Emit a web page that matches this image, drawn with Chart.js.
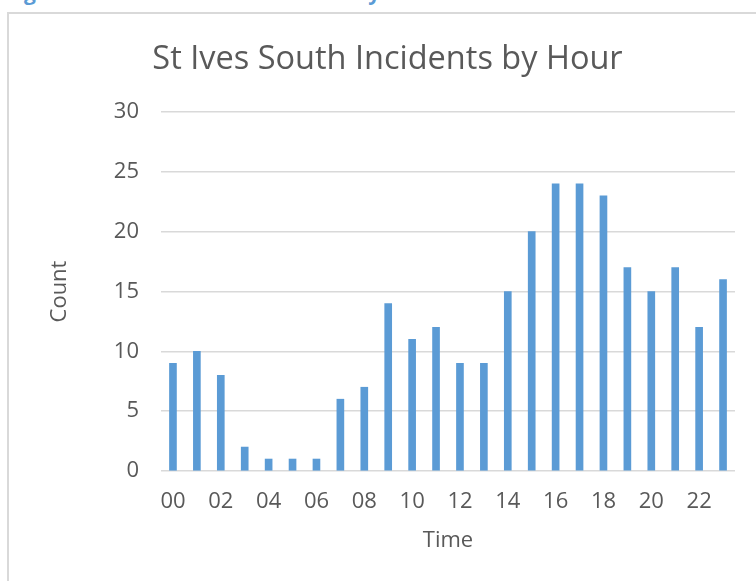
<!DOCTYPE html>
<html lang="en">
<head>
  <meta charset="UTF-8">
  <title>St Ives South Incidents by Hour</title>
  <script src="https://cdn.jsdelivr.net/npm/chart.js"></script>
  <style>
    html, body { margin: 0; padding: 0; background: #fff; overflow: hidden; }
    body { width: 756px; height: 581px; position: relative; }
    #caption {
      position: absolute; left: 6px; top: -22px; line-height: 1;
      font: bold 21px "Open Sans", sans-serif; color: #5b9bd5; white-space: nowrap;
    }
    #marco {
      position: absolute; left: 7px; top: 12px; width: 800px; height: 620px;
      border: 2px solid #d9d9d9; box-sizing: border-box;
    }
    #grafico { position: absolute; left: 0; top: 0; }
  </style>
</head>
<body>
  <div id="caption">Figure 14: St Ives South Incidents by Hour</div>
  <div id="marco"></div>
  <canvas id="grafico" width="756" height="581"></canvas>

  <script>
    // datos
    const horas = ['00','01','02','03','04','05','06','07','08','09','10','11',
                   '12','13','14','15','16','17','18','19','20','21','22','23'];
    const incidentes = [9, 10, 8, 2, 1, 1, 1, 6, 7, 14, 11, 12,
                        9, 9, 15, 20, 24, 24, 23, 17, 15, 17, 12, 16];
    const titulo = 'St Ives South Incidents by Hour';
    const tituloX = 'Time';
    const tituloY = 'Count';

    const gris = '#595959';
    const fuente = '"Open Sans", sans-serif';

    const ctx = document.getElementById('grafico').getContext('2d');
    new Chart(ctx, {
      type: 'bar',
      data: {
        labels: horas,
        datasets: [{
          label: tituloY,
          data: incidentes,
          backgroundColor: '#5b9bd5',
          borderWidth: 0,
          barThickness: 7
        }]
      },
      options: {
        responsive: false,
        animation: false,
        layout: { padding: { left: 40, right: 21, top: 0, bottom: 0 } },
        plugins: {
          legend: { display: false },
          tooltip: { enabled: false },
          title: {
            display: true,
            text: titulo,
            color: gris,
            font: { family: fuente, size: 32.5, weight: 'normal' },
            padding: { top: 40, bottom: 33 }
          }
        },
        scales: {
          x: {
            grid: { display: false },
            border: { display: false },
            ticks: {
              color: gris,
              font: { family: fuente, size: 22 },
              autoSkip: false,
              maxRotation: 0,
              padding: 10,
              callback: function(val, i) { return i % 2 === 0 ? this.getLabelForValue(val) : ''; }
            },
            title: {
              display: true,
              text: tituloX,
              color: gris,
              font: { family: fuente, size: 22 },
              padding: { top: 0, bottom: 27 }
            },
            afterFit: function(scale) { scale.height = 110; }
          },
          y: {
            min: 0,
            max: 30,
            border: { display: false },
            grid: { color: '#d9d9d9', lineWidth: 1.5, drawTicks: false },
            ticks: {
              stepSize: 5,
              color: gris,
              font: { family: fuente, size: 22 },
              padding: 22
            },
            title: {
              display: true,
              text: tituloY,
              color: gris,
              font: { family: fuente, size: 22 },
              padding: { top: 7, bottom: 0 }
            },
            afterFit: function(scale) { scale.width = 121; }
          }
        }
      }
    });
  </script>
</body>
</html>
